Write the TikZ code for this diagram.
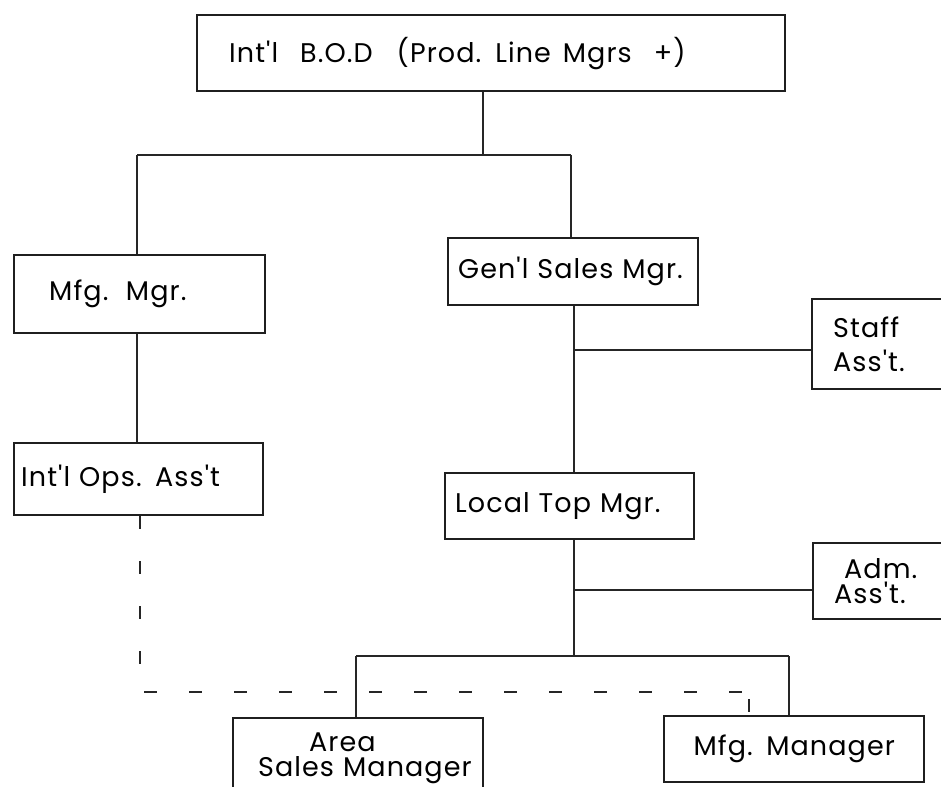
\documentclass[tikz,border=0pt]{standalone}
\usepackage{fontspec}
\newfontfamily\orgfont{Poppins}[LetterSpace=4]
\usepackage{tikz}
\usetikzlibrary{positioning,calc}

\begin{document}
\begin{tikzpicture}[
  x=1pt, y=-1pt,
  box/.style={draw=black!88, line width=2.4pt, rectangle, align=left,
              inner ysep=0pt, anchor=north west,
              font=\orgfont\fontsize{27}{29}\selectfont},
  link/.style={draw=black!85, line width=2pt},
  dotlink/.style={draw=black!85, line width=2.4pt,
                  dash pattern=on 13pt off 32pt}
]
\useasboundingbox (0,0) rectangle (941,786);

\node[box, minimum height=76pt, inner xsep=32pt, text width=524pt] (bod) at (196,14)
  {Int'l\hspace{22pt}B.O.D\hspace{24pt}(Prod.\hspace{14pt}Line\hspace{12pt}Mgrs\hspace{22pt}+)};
\node[box, minimum height=78pt, inner xsep=35pt, text width=181pt] (mfg) at (13,254)
  {Mfg.\hspace{4pt} Mgr.};
\node[box, minimum height=72pt, inner xsep=7pt, text width=235pt] (ops) at (13,442)
  {Int'l Ops. Ass't};
\node[box, minimum height=67pt, inner xsep=10pt, text width=230pt] (gsm) at (447,237)
  {Gen'l Sales Mgr.};
\node[box, minimum height=90pt, inner xsep=21pt, text width=110pt] (staff) at (811,298)
  {Staff\\[5pt]Ass't.};
\node[box, minimum height=66pt, inner xsep=10pt, text width=229pt] (ltm) at (444,472)
  {Local Top Mgr.};
\node[box, minimum height=76pt, inner xsep=21pt, text width=110pt] (adm) at (812,542)
  {\hspace*{10pt}Adm.\\[-4pt]Ass't.};
\node[box, minimum height=80pt, inner xsep=0pt, text width=250pt] (area) at (232,717)
  {\hspace*{76pt}Area\\[-4pt]\hspace*{25pt}\mbox{Sales Manager}};
\node[box, align=center, minimum height=66pt, inner xsep=8pt, text width=244pt] (mfgm) at (663,715)
  {Mfg. Manager};

\coordinate (hub) at (483,155);
\coordinate (lcol) at (137,155);
\coordinate (rcol) at (571,155);
\coordinate (scol) at (574,350);
\coordinate (acol) at (574,590);
\coordinate (bar) at (574,656);
\coordinate (bl) at (356,656);
\coordinate (br) at (789,656);
\coordinate (dl) at (140,692);
\coordinate (dr) at (749,692);
\coordinate (dt) at (749,699);

\draw[link] (bod.south -| hub) -- (hub);
\draw[link] (lcol) -- (rcol);
\draw[link] (lcol) -- (lcol |- mfg.north);
\draw[link] (rcol) -- (rcol |- gsm.north);
\draw[link] (mfg.south -| lcol) -- (ops.north -| lcol);
\draw[link] (gsm.south -| scol) -- (ltm.north -| scol);
\draw[link] (scol) -- (scol -| staff.west);
\draw[link] (ltm.south -| bar) -- (bar);
\draw[link] (acol) -- (acol -| adm.west);
\draw[link] (bl) -- (br);
\draw[link] (bl) -- (bl |- area.north);
\draw[link] (br) -- (br |- mfgm.north);
\draw[dotlink] (ops.south -| dl) -- (dl) -- (dr);
\draw[dotlink] (dt) -- (dt |- mfgm.north);
\end{tikzpicture}
\end{document}
